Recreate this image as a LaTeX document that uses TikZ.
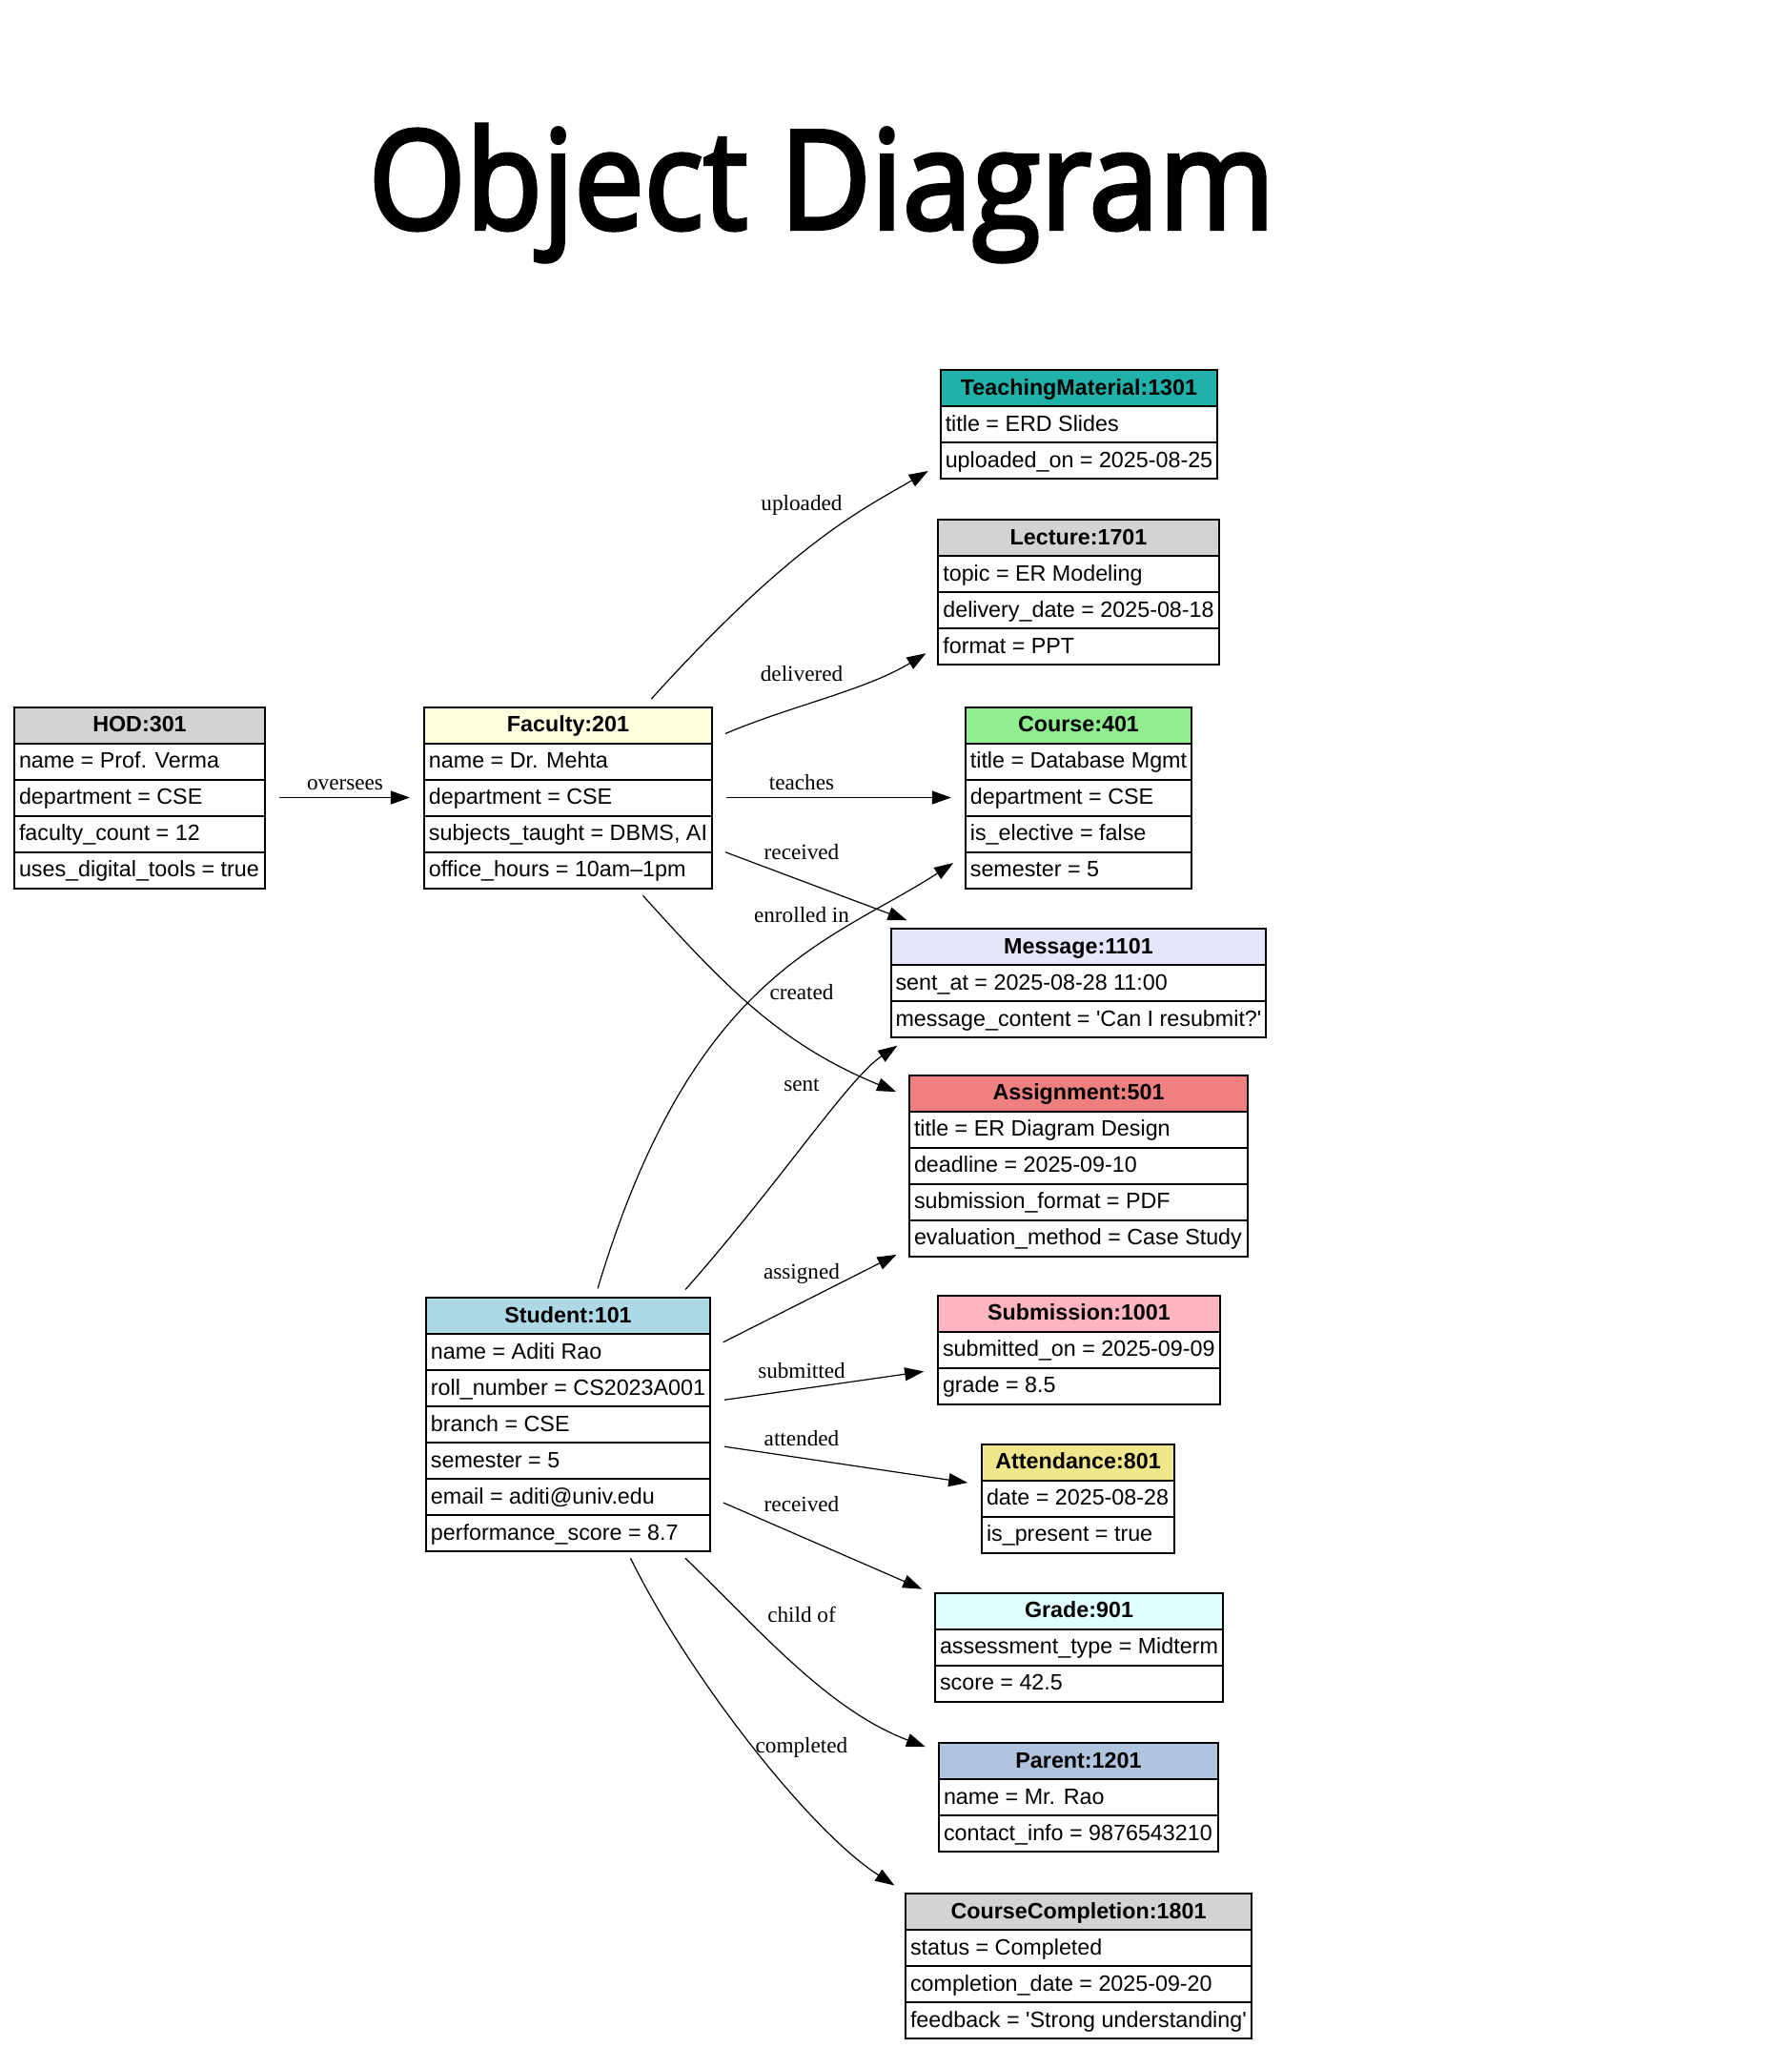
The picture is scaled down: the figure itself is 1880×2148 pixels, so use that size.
\documentclass[tikz,border=0pt]{standalone}
\usepackage{fontspec}
\setmainfont{Liberation Serif}
\setsansfont{Liberation Sans}
\newfontfamily\titlefont[FakeBold=3]{Open Sans}
\usetikzlibrary{arrows.meta,shapes.multipart}

\definecolor{gvgray}{HTML}{D3D3D3}
\definecolor{gvyellow}{HTML}{FFFFE0}
\definecolor{gvseagreen}{HTML}{20B2AA}
\definecolor{gvgreen}{HTML}{90EE90}
\definecolor{gvlavender}{HTML}{E6E6FA}
\definecolor{gvcoral}{HTML}{F08080}
\definecolor{gvblue}{HTML}{ADD8E6}
\definecolor{gvpink}{HTML}{FFB6C1}
\definecolor{gvkhaki}{HTML}{F0E68C}
\definecolor{gvcyan}{HTML}{E0FFFF}
\definecolor{gvsteel}{HTML}{B0C4DE}

% one table row: fixed height, same baseline in every row
\newcommand{\rowstrut}{\rule[-5.5pt]{0pt}{18pt}}
\newcommand{\attr}[1]{\nodepart{#1}\rowstrut}
\newcommand{\objname}[1]{\rowstrut\textbf{#1}}

\tikzstyle{obj}=[rectangle split,draw,line width=1pt,inner xsep=2.5pt,inner ysep=0pt,
  font=\sffamily\fontsize{11.65pt}{14pt}\selectfont,
  rectangle split part align={center,left,left,left,left,left,left}]
\tikzset{head/.style={rectangle split part fill={#1,white,white,white,white,white,white}}}
\tikzstyle{lbl}=[anchor=base,inner sep=0pt,font=\rmfamily\fontsize{11.6pt}{14pt}\selectfont]

\begin{document}
\begin{tikzpicture}[x=0.5pt,y=-0.5pt]
        \tikzset{edge/.style = {draw,line width=0.6pt,->,>={Triangle[length=10pt,width=7pt]},
            shorten <=7pt,shorten >=7pt}}
        \useasboundingbox (0,0) rectangle (1880,2148);
        \node[anchor=base,inner sep=0pt] (title) at (862,240)
            {\titlefont\fontsize{72pt}{80pt}\selectfont\scalebox{0.91}[1]{Object Diagram}};

        % left column
        \node[obj,head=gvgray,rectangle split parts=5,minimum width=131.5pt] (hod) at (146.5,836.5)
            {\objname{HOD:301}
             \attr{two}name = Prof. Verma
             \attr{three}department = CSE
             \attr{four}faculty\_count = 12
             \attr{five}uses\_digital\_tools = true};
        \node[obj,head=gvyellow,rectangle split parts=5,minimum width=151pt] (fac) at (596,836.5)
            {\objname{Faculty:201}
             \attr{two}name = Dr. Mehta
             \attr{three}department = CSE
             \attr{four}subjects\_taught = DBMS, AI
             \attr{five}office\_hours = 10am–1pm};
        \node[obj,head=gvblue,rectangle split parts=7,minimum width=149pt] (stu) at (596,1494)
            {\objname{Student:101}
             \attr{two}name = Aditi Rao
             \attr{three}roll\_number = CS2023A001
             \attr{four}branch = CSE
             \attr{five}semester = 5
             \attr{six}email = aditi@univ.edu
             \attr{seven}performance\_score = 8.7};

        % right column
        \node[obj,head=gvseagreen,rectangle split parts=3,minimum width=145pt] (tm) at (1132,445)
            {\objname{TeachingMaterial:1301}
             \attr{two}title = ERD Slides
             \attr{three}uploaded\_on = 2025-08-25};
        \node[obj,head=gvgray,rectangle split parts=4,minimum width=146.5pt] (lec) at (1131.5,621)
            {\objname{Lecture:1701}
             \attr{two}topic = ER Modeling
             \attr{three}delivery\_date = 2025-08-18
             \attr{four}format = PPT};
        \node[obj,head=gvgreen,rectangle split parts=5,minimum width=118.5pt] (crs) at (1131.5,836.5)
            {\objname{Course:401}
             \attr{two}title = Database Mgmt
             \attr{three}department = CSE
             \attr{four}is\_elective = false
             \attr{five}semester = 5};
        \node[obj,head=gvlavender,rectangle split parts=3,minimum width=196.5pt] (msg) at (1131.5,1031)
            {\objname{Message:1101}
             \attr{two}sent\_at = 2025-08-28 11:00
             \attr{three}message\_content = \textquotesingle Can I resubmit?\textquotesingle};
        \node[obj,head=gvcoral,rectangle split parts=5,minimum width=177.5pt] (asg) at (1131.5,1222.5)
            {\objname{Assignment:501}
             \attr{two}title = ER Diagram Design
             \attr{three}deadline = 2025-09-10
             \attr{four}submission\_format = PDF
             \attr{five}evaluation\_method = Case Study};
        \node[obj,head=gvpink,rectangle split parts=3,minimum width=148pt] (sub) at (1132,1415.5)
            {\objname{Submission:1001}
             \attr{two}submitted\_on = 2025-09-09
             \attr{three}grade = 8.5};
        \node[obj,head=gvkhaki,rectangle split parts=3,minimum width=101pt] (att) at (1131,1571.5)
            {\objname{Attendance:801}
             \attr{two}date = 2025-08-28
             \attr{three}is\_present = true};
        \node[obj,head=gvcyan,rectangle split parts=3,minimum width=151pt] (grd) at (1132,1727.5)
            {\objname{Grade:901}
             \attr{two}assessment\_type = Midterm
             \attr{three}score = 42.5};
        \node[obj,head=gvsteel,rectangle split parts=3,minimum width=146.5pt] (par) at (1131.5,1885)
            {\objname{Parent:1201}
             \attr{two}name = Mr. Rao
             \attr{three}contact\_info = 9876543210};
        \node[obj,head=gvgray,rectangle split parts=4,minimum width=181.5pt] (cc) at (1131.5,2062)
            {\objname{CourseCompletion:1801}
             \attr{two}status = Completed
             \attr{three}completion\_date = 2025-09-20
             \attr{four}feedback = \textquotesingle Strong understanding\textquotesingle};

        % links
        \draw[edge] (hod) -- (fac);
        \draw[edge] (fac) -- (crs);
        \draw[edge,shorten <=5pt] (fac.50) .. controls +(155,-171) and +(-84,49) .. (tm.196);
        \draw[edge] (fac.22) .. controls +(79,-34) and +(-75,46) .. (lec.201);
        \draw[edge,shorten >=11pt] (fac.-19) -- (msg.160);
        \draw[edge,shorten <=4.5pt] (fac.-53) .. controls +(93,103) and +(-134,-55) .. (asg.158);
        \draw[edge,shorten <=4.5pt] (stu.78) .. controls +(103,-343) and +(-140,91) .. (crs.207);
        \draw[edge,shorten <=5pt] (stu.49) .. controls +(106,-120) and +(-63,42) .. (msg.198);
        \draw[edge] (stu.28) -- (asg.206);
        \draw[edge] (stu.9) -- (sub.188);
        \draw[edge] (stu.-8) -- (att.172);
        \draw[edge] (stu.-27) -- (grd.160);
        \draw[edge,shorten <=4.5pt] (stu.-49) .. controls +(85,82) and +(-116,-44) .. (par.162);
        \draw[edge,shorten <=3.5pt] (stu.-65) .. controls +(60,123) and +(-104,-67) .. (cc.157);

        % link labels
        \node[lbl] (l-oversees) at (362,828) {oversees};
        \node[lbl] (l-uploaded) at (841,535) {uploaded};
        \node[lbl] (l-delivered) at (841,714) {delivered};
        \node[lbl] (l-teaches) at (841,828) {teaches};
        \node[lbl] (l-received) at (841,901) {received};
        \node[lbl] (l-enrolled) at (841,967) {enrolled in};
        \node[lbl] (l-created) at (841,1048) {created};
        \node[lbl] (l-sent) at (841,1144) {sent};
        \node[lbl] (l-assigned) at (841,1341) {assigned};
        \node[lbl] (l-submitted) at (841,1445) {submitted};
        \node[lbl] (l-attended) at (841,1516) {attended};
        \node[lbl] (l-grade) at (841,1585) {received};
        \node[lbl] (l-child) at (841,1701) {child of};
        \node[lbl] (l-completed) at (841,1838) {completed};
      \end{tikzpicture}
\end{document}
